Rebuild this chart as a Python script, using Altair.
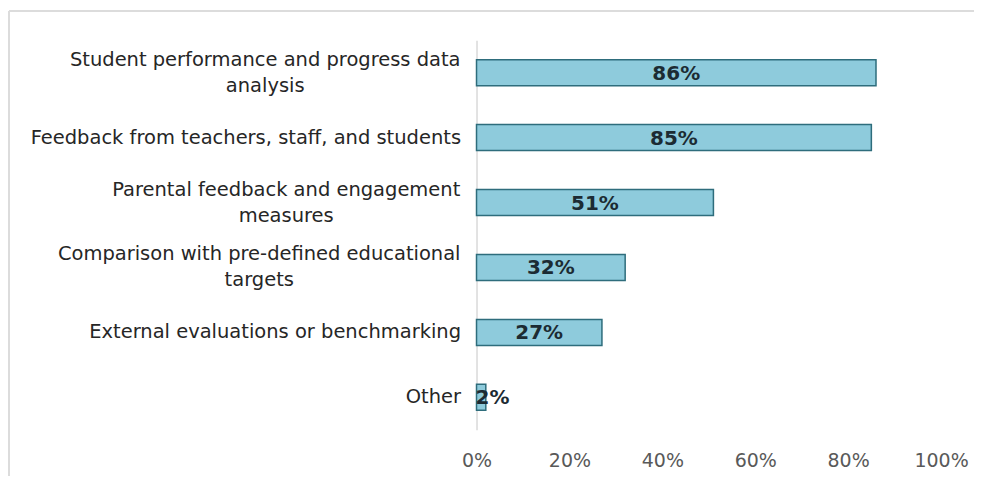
import altair as alt
import pandas as pd

categories = [
    "Student performance and progress data analysis",
    "Feedback from teachers, staff, and students",
    "Parental feedback and engagement measures",
    "Comparison with pre-defined educational targets",
    "External evaluations or benchmarking",
    "Other",
]
label_lines = [
    ["Student performance and progress data", "analysis"],
    ["Feedback from teachers, staff, and students"],
    ["Parental feedback and engagement", "measures"],
    ["Comparison with pre-defined educational", "targets"],
    ["External evaluations or benchmarking"],
    ["Other"],
]
values = [0.86, 0.85, 0.51, 0.32, 0.27, 0.02]
tick_values = [0, 0.2, 0.4, 0.6, 0.8, 1.0]

df = pd.DataFrame({"category": categories, "value": values})
df["label"] = [f"{round(v*100)}%" for v in values]

label_expr = "{" + ",".join(
    f'"{c}": [' + ",".join(f'"{s}"' for s in l) + "]" for c, l in zip(categories, label_lines)
) + "}[datum.value]"

multi = [c for c, l in zip(categories, label_lines) if len(l) > 1]
multi_test = "indexof([" + ",".join(f'"{c}"' for c in multi) + "], datum.value) >= 0"

# distance from axis to the centre of two-line labels (styling)
center_pad = {multi[0]: 212, multi[1]: 191, multi[2]: 218}

FONT = "DejaVu Sans"

y_enc = alt.Y(
    "category:N",
    sort=categories,
    title=None,
    scale=alt.Scale(paddingInner=0.6, paddingOuter=0.3),
    axis=alt.Axis(
        labelExpr=label_expr,
        labelFont=FONT,
        labelFontSize=19.5,
        labelColor="#262626",
        labelLimit=600,
        labelAlign={"condition": {"test": multi_test, "value": "center"}, "value": "right"},
        labelPadding={
            "condition": [
                {"test": f'datum.value === "{c}"', "value": p} for c, p in center_pad.items()
            ],
            "value": 16,
        },
        labelOffset={"condition": {"test": multi_test, "value": -13}, "value": 0},
        ticks=False,
        domainColor="#d9d9d9",
        domainWidth=1.5,
        labelLineHeight=26,
    ),
)

x_enc = alt.X(
    "value:Q",
    title=None,
    scale=alt.Scale(domain=[0, 1]),
    axis=alt.Axis(
        format=".0%",
        values=tick_values,
        grid=False,
        ticks=False,
        domain=False,
        labelFlush=False,
        labelFont=FONT,
        labelFontSize=19,
        labelColor="#595959",
        labelPadding=22,
    ),
)

base = alt.Chart(df)

bars = base.mark_bar(
    color="#8ecbdc", stroke="#2e6d7c", strokeWidth=1.5
).encode(x=x_enc, y=y_enc)

text_style = dict(
    font=FONT, fontSize=20, fontWeight="bold", color="#1c2b33",
    baseline="middle", dy=1,
)

text_mid = base.transform_filter("datum.value >= 0.1").transform_calculate(
    mid="datum.value / 2"
).mark_text(align="center", **text_style).encode(
    x="mid:Q",
    y=alt.Y("category:N", sort=categories),
    text="label:N",
)

text_small = base.transform_filter("datum.value < 0.1").mark_text(
    align="left", dx=-1, **text_style
).encode(
    x=alt.datum(0),
    y=alt.Y("category:N", sort=categories),
    text="label:N",
)

frame_top = base.mark_rule(color="#dcdcdc", strokeWidth=1.5).encode(
    x=alt.value(-468), x2=alt.value(498), y=alt.value(-29)
)
frame_left = base.mark_rule(color="#dcdcdc", strokeWidth=1.5).encode(
    x=alt.value(-468), y=alt.value(-29), y2=alt.value(436)
)

chart = alt.layer(bars, text_mid, text_small, frame_top, frame_left).properties(
    width=465, height=390,
    background="white",
    padding={"left": 0, "top": 2, "right": 0, "bottom": 0},
).configure_view(stroke=None)

chart.save("out.html", embed_options={"renderer": "svg", "actions": False})
